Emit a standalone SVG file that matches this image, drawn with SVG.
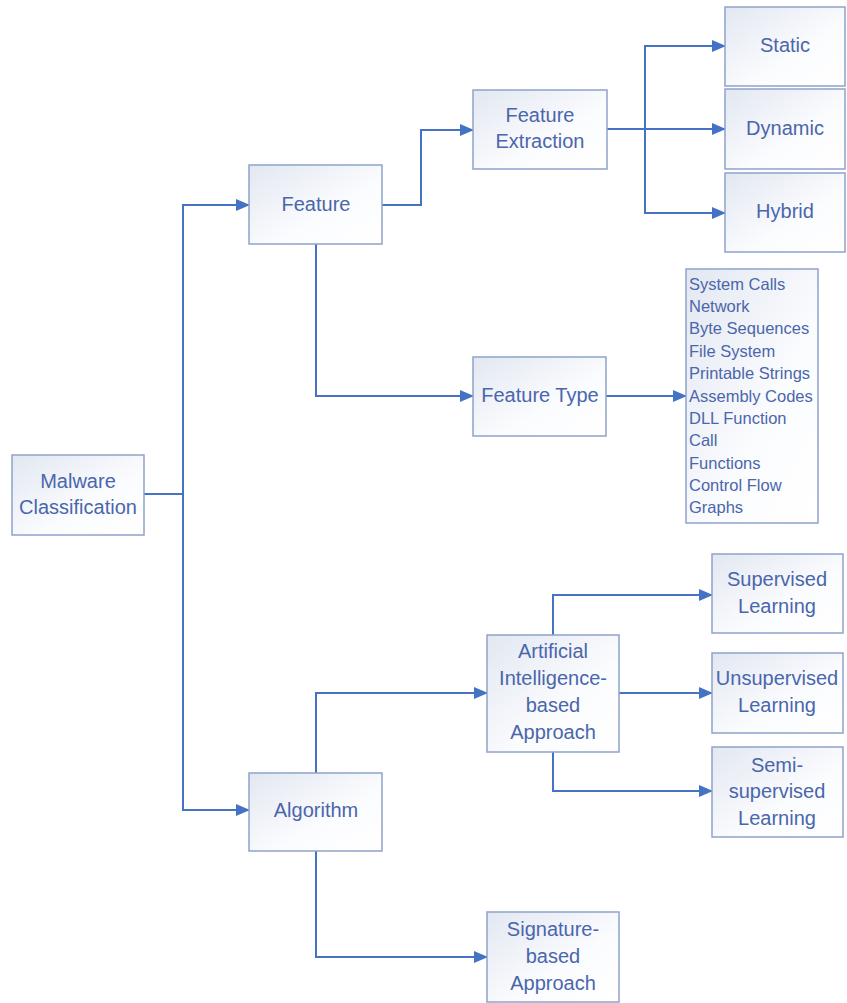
<svg xmlns="http://www.w3.org/2000/svg" width="847" height="1003" viewBox="0 0 847 1003">
<defs>
<linearGradient id="g" x1="0" y1="0" x2="1" y2="1">
<stop offset="0" stop-color="#e2e7f1"/>
<stop offset="0.6" stop-color="#fbfcfe"/>
<stop offset="1" stop-color="#ffffff"/>
</linearGradient>
<marker id="ah" markerUnits="userSpaceOnUse" markerWidth="14" markerHeight="12" refX="13" refY="6" orient="auto">
<path d="M0,0 L14,6 L0,12 Z" fill="#4472c4"/>
</marker>
<style>
.box{fill:url(#g);stroke:#8fa2cc;stroke-width:1.5}
.t{font-family:"Liberation Sans",Arial,sans-serif;font-size:20px;fill:#4a66ac;text-anchor:middle}
.l{font-family:"Liberation Sans",Arial,sans-serif;font-size:16.5px;fill:#4a66ac}
.c{fill:none;stroke:#4472c4;stroke-width:2}
</style>
</defs>
<rect width="847" height="1003" fill="#ffffff"/>
<g id="connectors">
<path class="c" d="M144,494 H183"/>
<path class="c" d="M183,494 V205 H249" marker-end="url(#ah)"/>
<path class="c" d="M183,494 V810 H249" marker-end="url(#ah)"/>
<path class="c" d="M382,205 H421 V130 H473" marker-end="url(#ah)"/>
<path class="c" d="M316,244 V396 H473" marker-end="url(#ah)"/>
<path class="c" d="M607,129 H725" marker-end="url(#ah)"/>
<path class="c" d="M645,129 V46 H725" marker-end="url(#ah)"/>
<path class="c" d="M645,129 V213 H725" marker-end="url(#ah)"/>
<path class="c" d="M606,396 H686" marker-end="url(#ah)"/>
<path class="c" d="M316,773 V693 H487" marker-end="url(#ah)"/>
<path class="c" d="M316,851 V957 H487" marker-end="url(#ah)"/>
<path class="c" d="M553,635 V595 H712" marker-end="url(#ah)"/>
<path class="c" d="M619,693 H712" marker-end="url(#ah)"/>
<path class="c" d="M553,752 V791 H712" marker-end="url(#ah)"/>
</g>
<g id="malware-classification">
<rect class="box" x="12" y="455" width="132" height="80"/>
<text class="t" x="78" y="488">Malware</text>
<text class="t" x="78" y="514">Classification</text>
</g>
<g id="feature">
<rect class="box" x="249" y="165" width="133" height="79"/>
<text class="t" x="316" y="211">Feature</text>
</g>
<g id="feature-extraction">
<rect class="box" x="473" y="90" width="134" height="79"/>
<text class="t" x="540" y="122">Feature</text>
<text class="t" x="540" y="148">Extraction</text>
</g>
<g id="static">
<rect class="box" x="725" y="7" width="120" height="79"/>
<text class="t" x="785" y="52">Static</text>
</g>
<g id="dynamic">
<rect class="box" x="725" y="89" width="120" height="80"/>
<text class="t" x="785" y="135">Dynamic</text>
</g>
<g id="hybrid">
<rect class="box" x="725" y="173" width="120" height="79"/>
<text class="t" x="785" y="218">Hybrid</text>
</g>
<g id="feature-type">
<rect class="box" x="473" y="357" width="133" height="79"/>
<text class="t" x="540" y="402">Feature Type</text>
</g>
<g id="feature-list">
<rect class="box" x="686" y="269" width="132" height="254"/>
<text class="l" x="689" y="290">System Calls</text>
<text class="l" x="689" y="312">Network</text>
<text class="l" x="689" y="334">Byte Sequences</text>
<text class="l" x="689" y="357">File System</text>
<text class="l" x="689" y="379">Printable Strings</text>
<text class="l" x="689" y="402">Assembly Codes</text>
<text class="l" x="689" y="424">DLL Function</text>
<text class="l" x="689" y="446">Call</text>
<text class="l" x="689" y="469">Functions</text>
<text class="l" x="689" y="491">Control Flow</text>
<text class="l" x="689" y="513">Graphs</text>
</g>
<g id="algorithm">
<rect class="box" x="249" y="773" width="133" height="78"/>
<text class="t" x="316" y="817">Algorithm</text>
</g>
<g id="ai-approach">
<rect class="box" x="487" y="635" width="132" height="117"/>
<text class="t" x="553" y="658">Artificial</text>
<text class="t" x="553" y="685">Intelligence-</text>
<text class="t" x="553" y="712">based</text>
<text class="t" x="553" y="739">Approach</text>
</g>
<g id="supervised">
<rect class="box" x="712" y="554" width="131" height="79"/>
<text class="t" x="777" y="586">Supervised</text>
<text class="t" x="777" y="613">Learning</text>
</g>
<g id="unsupervised">
<rect class="box" x="712" y="653" width="131" height="80"/>
<text class="t" x="777" y="685">Unsupervised</text>
<text class="t" x="777" y="712">Learning</text>
</g>
<g id="semi-supervised">
<rect class="box" x="712" y="747" width="131" height="90"/>
<text class="t" x="777" y="772">Semi-</text>
<text class="t" x="777" y="798">supervised</text>
<text class="t" x="777" y="825">Learning</text>
</g>
<g id="signature-approach">
<rect class="box" x="487" y="912" width="132" height="90"/>
<text class="t" x="553" y="936">Signature-</text>
<text class="t" x="553" y="963">based</text>
<text class="t" x="553" y="990">Approach</text>
</g>
</svg>
